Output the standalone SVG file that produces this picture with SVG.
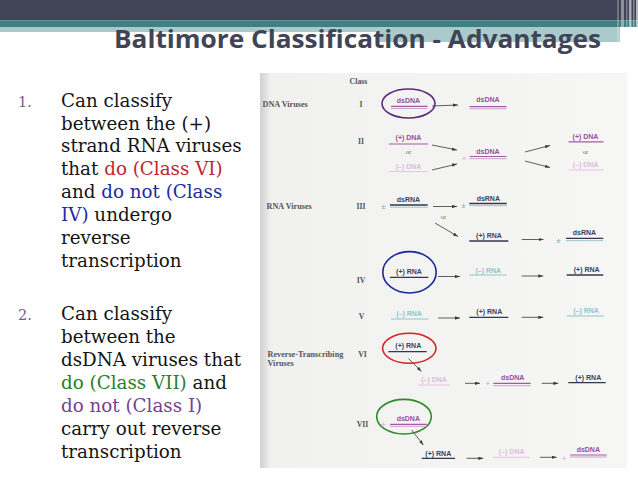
<svg xmlns="http://www.w3.org/2000/svg" width="638" height="479" viewBox="0 0 638 479">
<defs>
<style>
.body{font-family:"DejaVu Serif",Georgia,serif;font-size:18.3px;fill:#141414}
.num{font-family:"DejaVu Serif",Georgia,serif;font-size:14.5px;fill:#7b5c8e}
.lbl{font-family:"Liberation Serif","Times New Roman",serif;font-weight:bold;font-size:8.2px;fill:#555}
.rn{font-family:"Liberation Serif","Times New Roman",serif;font-weight:bold;font-size:7.8px;fill:#555;text-anchor:middle}
.nt{font-family:"Liberation Sans",Arial,sans-serif;font-size:7px;font-weight:bold;text-anchor:middle}
.or{font-family:"Liberation Serif","Times New Roman",serif;font-size:6.5px;fill:#666;text-anchor:middle}
.pur{fill:#9b4c9b}.pink{fill:#dcbcdc}.navy{fill:#3c405e}.teal{fill:#8fc4cb}
.lp{stroke:#a35aa3;stroke-width:1.2}
.lp2{stroke:#c9a2c9;stroke-width:1}
.lk{stroke:#e0c8e0;stroke-width:1.1}
.ln{stroke:#33374f;stroke-width:1.3}
.lb{stroke:#98c5d0;stroke-width:1}
.lt{stroke:#92c6cc;stroke-width:1.1}
.conn{stroke:#3a3a3a;stroke-width:0.8;fill:none;marker-end:url(#ah)}
.ring{fill:none;stroke-width:1.6}
</style>
<marker id="ah" viewBox="0 0 6 4" refX="6" refY="2" markerWidth="5" markerHeight="3.4" orient="auto" markerUnits="userSpaceOnUse"><path d="M0,0 L6,2 L0,4 z" fill="#3a3a3a"/></marker>
<linearGradient id="edge" x1="0" y1="0" x2="1" y2="0"><stop offset="0" stop-color="#cfcfcf"/><stop offset="0.03" stop-color="#f1f1ef"/><stop offset="1" stop-color="#f6f6f4"/></linearGradient>
</defs>

<g id="header">
<rect x="0" y="0" width="638" height="20.5" fill="#414457"/>
<rect x="0" y="20.5" width="638" height="6.5" fill="#3f8083"/>
<rect x="0" y="27" width="376" height="5" fill="#a9c9cb"/>
<rect x="376" y="27" width="244" height="15" fill="#a9c9cb"/>
<rect x="617" y="0" width="2" height="42" fill="#ffffff" opacity="0.25"/>
<rect x="621" y="0" width="3" height="42" fill="#ffffff" opacity="0.4"/>
<rect x="626" y="0" width="1.5" height="42" fill="#ffffff" opacity="0.3"/>
<rect x="629" y="0" width="2.5" height="42" fill="#ffffff" opacity="0.55"/>
<rect x="633" y="0" width="1.5" height="42" fill="#ffffff" opacity="0.35"/>
<rect x="636" y="0" width="2" height="42" fill="#ffffff" opacity="0.6"/>
<text x="114" y="48" textLength="487" lengthAdjust="spacingAndGlyphs" font-family="'Open Sans','DejaVu Sans',sans-serif" font-weight="bold" font-size="24.5" fill="#414457">Baltimore Classification - Advantages</text>
</g>

<g id="list">
<text class="num" x="18" y="106.7">1.</text>
<text class="body" x="61" y="106.7">Can classify</text>
<text class="body" x="61" y="129.5">between the (+)</text>
<text class="body" x="61" y="152.4">strand RNA viruses</text>
<text class="body" x="61" y="175.2">that <tspan fill="#c3262c">do (Class VI)</tspan></text>
<text class="body" x="61" y="198.1"><tspan>and </tspan><tspan fill="#1d2c9c">do not (Class</tspan></text>
<text class="body" x="61" y="220.9"><tspan fill="#1d2c9c">IV)</tspan> undergo</text>
<text class="body" x="61" y="243.8">reverse</text>
<text class="body" x="61" y="266.7">transcription</text>

<text class="num" x="18" y="320">2.</text>
<text class="body" x="61" y="320">Can classify</text>
<text class="body" x="61" y="343">between the</text>
<text class="body" x="61" y="366">dsDNA viruses that</text>
<text class="body" x="61" y="389.2"><tspan fill="#2b7d2b">do (Class VII)</tspan> and</text>
<text class="body" x="61" y="412.4"><tspan fill="#7a3f93">do not (Class I)</tspan></text>
<text class="body" x="61" y="435.4">carry out reverse</text>
<text class="body" x="61" y="458.4">transcription</text>
</g>

<g id="figure">
<rect x="260" y="73" width="367" height="395" fill="url(#edge)"/>
<text class="rn" x="358.5" y="83.5">Class</text>
<text class="lbl" x="262.5" y="106.5">DNA Viruses</text>
<text class="rn" x="361" y="106.5">I</text>
<text class="rn" x="361" y="144">II</text>
<text class="lbl" x="266.5" y="209">RNA Viruses</text>
<text class="rn" x="361" y="209">III</text>
<text class="rn" x="361" y="282.5">IV</text>
<text class="rn" x="361.5" y="319">V</text>
<text class="lbl" x="267.5" y="356.5">Reverse-Transcribing</text>
<text class="lbl" x="267.5" y="366">Viruses</text>
<text class="rn" x="362.5" y="356.5">VI</text>
<text class="rn" x="362.5" y="426.5">VII</text>
</g>

<g id="connectors">
<line class="conn" x1="432" y1="106" x2="458" y2="105"/>
<line class="conn" x1="432" y1="145" x2="457" y2="150"/>
<line class="conn" x1="432" y1="170" x2="457" y2="164"/>
<line class="conn" x1="525" y1="152" x2="550" y2="145.5"/>
<line class="conn" x1="525" y1="161" x2="550" y2="167.5"/>
<line class="conn" x1="433" y1="206.5" x2="457" y2="206.5"/>
<line class="conn" x1="435" y1="223" x2="458" y2="236.5"/>
<line class="conn" x1="521.7" y1="239.5" x2="543.5" y2="239.5"/>
<line class="conn" x1="438" y1="276.5" x2="460" y2="276.5"/>
<line class="conn" x1="521.7" y1="276" x2="543.3" y2="276"/>
<line class="conn" x1="438" y1="318" x2="460" y2="318"/>
<line class="conn" x1="521.7" y1="317.3" x2="543.3" y2="317.3"/>
<line class="conn" x1="408.5" y1="358.5" x2="421.5" y2="371.5"/>
<line class="conn" x1="465" y1="383.3" x2="480" y2="383.3"/>
<line class="conn" x1="541.7" y1="383.3" x2="558.3" y2="383.3"/>
<line class="conn" x1="411.7" y1="430" x2="423.3" y2="445"/>
<line class="conn" x1="466.7" y1="458.3" x2="483.3" y2="458.3"/>
<line class="conn" x1="540" y1="457.3" x2="556.7" y2="457.3"/>
<text class="or" x="443.5" y="219">or</text>
</g>

<g id="n-I-in">
<ellipse class="ring" cx="408.5" cy="103.5" rx="26.5" ry="14.5" stroke="#5b2a7e"/>
<text class="nt pur" x="408.5" y="102.5">dsDNA</text>
<line class="lp" x1="391" y1="106.3" x2="427.5" y2="106.3"/><line class="lp2" x1="391" y1="108.5" x2="427.5" y2="108.5"/>
</g>
<g id="n-I-out">
<text class="nt pur" x="488" y="101.8">dsDNA</text>
<line class="lp" x1="469.5" y1="106.7" x2="506.5" y2="106.7"/><line class="lp2" x1="469.5" y1="108.8" x2="506.5" y2="108.8"/>
</g>

<g id="n-II-in">
<text class="nt pur" x="408.5" y="140">(+) DNA</text>
<line class="lp" x1="389" y1="144" x2="428" y2="144"/>
<text class="or" x="408.5" y="153.5">or</text>
<text class="nt pink" x="408.5" y="168.5">(–) DNA</text>
<line class="lk" x1="389" y1="171.5" x2="428" y2="171.5"/>
</g>
<g id="n-II-mid">
<text class="nt pink" x="464" y="160.5">+</text>
<text class="nt pur" x="488" y="153.5">dsDNA</text>
<line class="lp" x1="469.5" y1="156.5" x2="506.5" y2="156.5"/><line class="lp2" x1="469.5" y1="158.7" x2="506.5" y2="158.7"/>
</g>
<g id="n-II-out">
<text class="nt pur" x="585.5" y="138.5">(+) DNA</text>
<line class="lp" x1="568.5" y1="141.8" x2="603.5" y2="141.8"/>
<text class="or" x="585.5" y="153.5">or</text>
<text class="nt pink" x="585.5" y="167">(–) DNA</text>
<line class="lk" x1="568.5" y1="170" x2="603.5" y2="170"/>
</g>

<g id="n-III-in">
<text class="nt teal" x="383.5" y="208.5">±</text>
<text class="nt navy" x="408.5" y="201.5">dsRNA</text>
<line class="ln" x1="390" y1="205" x2="427.7" y2="205"/><line class="lb" x1="390" y1="207.2" x2="427.7" y2="207.2"/>
</g>
<g id="n-III-mid">
<text class="nt teal" x="463.5" y="207.5">±</text>
<text class="nt navy" x="488.3" y="200.8">dsRNA</text>
<line class="ln" x1="469.3" y1="203.5" x2="506.7" y2="203.5"/><line class="lb" x1="469.3" y1="205.7" x2="506.7" y2="205.7"/>
</g>
<g id="n-III-plus">
<text class="nt navy" x="489" y="237.5">(+) RNA</text>
<line class="ln" x1="469.3" y1="241" x2="508.3" y2="241"/>
</g>
<g id="n-III-out">
<text class="nt teal" x="558.5" y="243">±</text>
<text class="nt navy" x="584.5" y="235">dsRNA</text>
<line class="ln" x1="566" y1="238.3" x2="603.3" y2="238.3"/><line class="lb" x1="566" y1="240.7" x2="603.3" y2="240.7"/>
</g>

<g id="n-IV-in">
<ellipse class="ring" cx="409.5" cy="272.3" rx="26.7" ry="20.7" stroke="#1b2a9c"/>
<text class="nt navy" x="409" y="273.5">(+) RNA</text>
<line class="ln" x1="390" y1="277.3" x2="428.3" y2="277.3"/>
</g>
<g id="n-IV-mid">
<text class="nt teal" x="488.3" y="272.5">(–) RNA</text>
<line class="lt" x1="469.3" y1="275" x2="506.7" y2="275"/>
</g>
<g id="n-IV-out">
<text class="nt navy" x="586.7" y="271.5">(+) RNA</text>
<line class="ln" x1="566.7" y1="275" x2="603.3" y2="275"/>
</g>

<g id="n-V-in">
<text class="nt teal" x="409" y="315.8">(–) RNA</text>
<line class="lt" x1="391" y1="319" x2="428.3" y2="319"/>
</g>
<g id="n-V-mid">
<text class="nt navy" x="489.3" y="314.2">(+) RNA</text>
<line class="ln" x1="469.3" y1="317.3" x2="508.3" y2="317.3"/>
</g>
<g id="n-V-out">
<text class="nt teal" x="586" y="312.5">(–) RNA</text>
<line class="lt" x1="566.7" y1="316" x2="604" y2="316"/>
</g>

<g id="n-VI-in">
<ellipse class="ring" cx="409.3" cy="348.3" rx="26.7" ry="15" stroke="#d42424"/>
<text class="nt navy" x="408.3" y="347.5">(+) RNA</text>
<line class="ln" x1="388.3" y1="351.7" x2="426.7" y2="351.7"/>
</g>
<g id="n-VI-dna">
<text class="nt pink" x="434" y="381.8">(–) DNA</text>
<line class="lk" x1="418.3" y1="385" x2="450" y2="385"/>
</g>
<g id="n-VI-ds">
<text class="nt pink" x="487.7" y="385.8">+</text>
<text class="nt pur" x="512.7" y="380.2">dsDNA</text>
<line class="lp" x1="493.3" y1="383.3" x2="530.7" y2="383.3"/><line class="lp2" x1="493.3" y1="385.7" x2="530.7" y2="385.7"/>
</g>
<g id="n-VI-out">
<text class="nt navy" x="588.3" y="379.8">(+) RNA</text>
<line class="ln" x1="568.3" y1="382.7" x2="605.7" y2="382.7"/>
</g>

<g id="n-VII-in">
<ellipse class="ring" cx="404" cy="416.7" rx="27.3" ry="17.3" stroke="#2a8a2a"/>
<text class="nt pink" x="383.3" y="426.8">+</text>
<text class="nt pur" x="408.3" y="420.8">dsDNA</text>
<line class="lp" x1="390" y1="424.3" x2="426.7" y2="424.3"/><line class="lp2" x1="390" y1="426.3" x2="426.7" y2="426.3"/>
</g>
<g id="n-VII-rna">
<text class="nt navy" x="438.3" y="455.8">(+) RNA</text>
<line class="ln" x1="421.7" y1="458.3" x2="455" y2="458.3"/>
</g>
<g id="n-VII-dna">
<text class="nt pink" x="511.7" y="454.2">(–) DNA</text>
<line class="lk" x1="492.7" y1="457.3" x2="530" y2="457.3"/>
</g>
<g id="n-VII-out">
<text class="nt pink" x="564" y="460.8">+</text>
<text class="nt pur" x="588.3" y="451.8">dsDNA</text>
<line class="lp" x1="570" y1="455" x2="606.7" y2="455"/><line class="lp2" x1="570" y1="457" x2="606.7" y2="457"/>
</g>
</svg>
